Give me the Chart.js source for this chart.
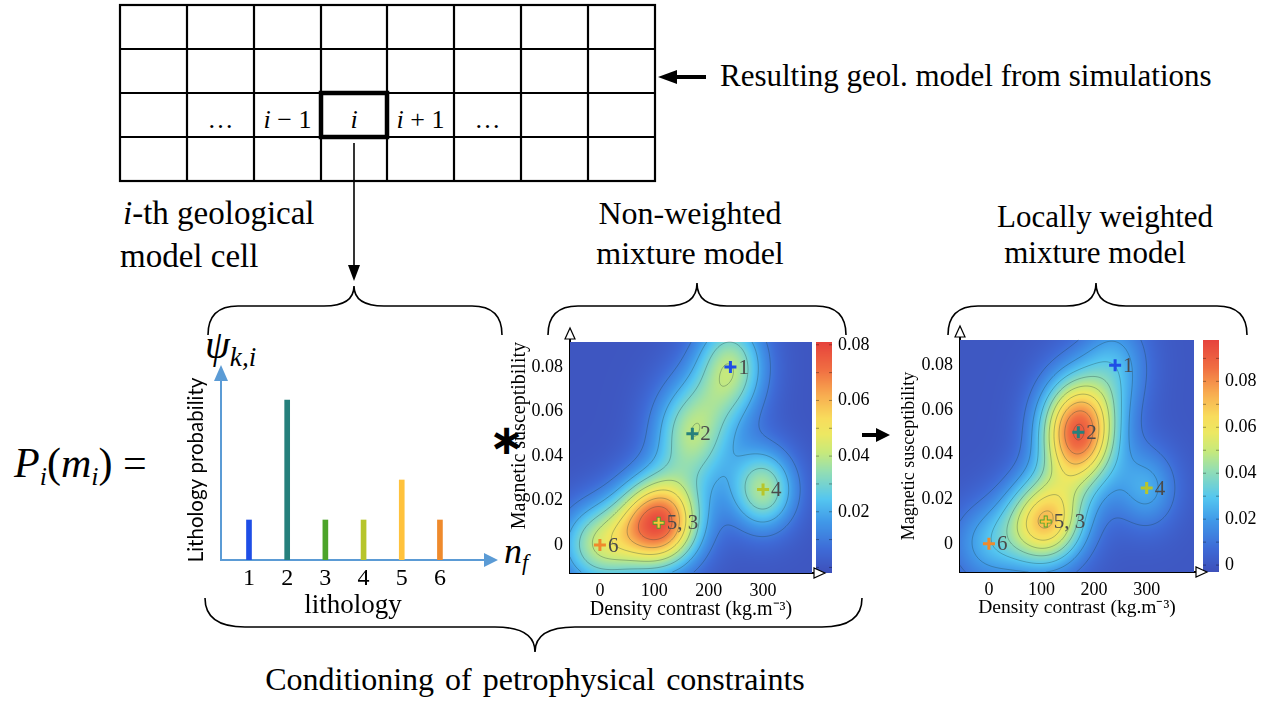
<!DOCTYPE html>
<html>
<head>
<meta charset="utf-8">
<script src="https://cdn.jsdelivr.net/npm/chart.js@4.4.1/dist/chart.umd.min.js"></script>
<style>
  body { margin: 0; background: #fff; }
  #fig { position: relative; width: 1266px; height: 702px; overflow: hidden; font-family: "Liberation Serif", serif; color: #000; }
  .t { position: absolute; white-space: nowrap; line-height: 1; }
  .c { text-align: center; }
  .m { font-family: "Liberation Serif", serif; }
  .m sub { font-size: 0.62em; vertical-align: -0.3em; font-style: italic; }
  canvas { position: absolute; }
  svg { position: absolute; left: 0; top: 0; }
</style>
</head>
<body>
<div id="fig">
  <svg width="1266" height="702">
    <g stroke="#000" fill="none" stroke-width="2.2">
      <rect x="120" y="5" width="535" height="176"/>
      <path d="M187 5V181M254 5V181M321 5V181M387 5V181M454 5V181M521 5V181M588 5V181M120 49H655M120 93H655M120 137H655"/>
    </g>
    <rect x="321" y="93" width="66" height="44" fill="none" stroke="#000" stroke-width="4.5"/>
    <path d="M354 143V268" stroke="#000" stroke-width="1.6"/>
    <polygon points="348,265 360,265 354,281" fill="#000"/>
    <path d="M676 77H706" stroke="#000" stroke-width="4"/>
    <polygon points="658,77 677,70 677,84" fill="#000"/>
    <path d="M862 435H878" stroke="#000" stroke-width="4"/>
    <polygon points="890,435 876,428 876,442" fill="#000"/>
    <g stroke="#000" fill="none" stroke-width="1.6">
      <path d="M208 335Q208 306 238 306L324 306Q354 306 354 286Q354 306 384 306L472 306Q502 306 502 335"/>
      <path d="M548 335Q548 306 578 306L667 306Q697 306 697 283Q697 306 727 306L816 306Q846 306 846 335"/>
      <path d="M948 335Q948 306 978 306L1066 306Q1096 306 1096 283Q1096 306 1126 306L1217 306Q1247 306 1247 335"/>
      <path d="M205 598Q205 627 245 627L495 627Q535 627 535 652Q535 627 575 627L822 627Q862 627 862 598"/>
    </g>
  </svg>

  <div class="t m c" style="left:187px;top:107px;width:67px;font-size:26px">…</div>
  <div class="t m c" style="left:254px;top:107px;width:67px;font-size:26px"><i>i</i> − 1</div>
  <div class="t m c" style="left:321px;top:107px;width:66px;font-size:26px"><i>i</i></div>
  <div class="t m c" style="left:387px;top:107px;width:67px;font-size:26px"><i>i</i> + 1</div>
  <div class="t m c" style="left:454px;top:107px;width:67px;font-size:26px">…</div>

  <div class="t" style="left:720px;top:60px;font-size:31px">Resulting geol. model from simulations</div>
  <div class="t" style="left:123px;top:197px;font-size:33px"><i>i</i>-th geological</div>
  <div class="t" style="left:120px;top:240px;font-size:33px">model cell</div>
  <div class="t c" style="left:490px;top:197px;width:400px;font-size:32px">Non-weighted</div>
  <div class="t c" style="left:490px;top:237px;width:400px;font-size:32px">mixture model</div>
  <div class="t c" style="left:905px;top:201px;width:400px;font-size:31px">Locally weighted</div>
  <div class="t c" style="left:895px;top:237px;width:400px;font-size:31px">mixture model</div>
  <div class="t c" style="left:185px;top:663px;width:700px;font-size:32px;word-spacing:3px">Conditioning of petrophysical constraints</div>

  <div class="t m" style="left:14px;top:442px;font-size:42px"><i>P</i><sub>i</sub>(<i>m</i><sub>i</sub>) =</div>
  <div class="t m" style="left:205px;top:325px;font-size:40px"><i>ψ</i><sub style="font-size:0.68em">k,i</sub></div>
  <div class="t m" style="left:504px;top:533px;font-size:36px"><i>n</i><sub>f</sub></div>
  <div class="t" style="left:489px;top:419px;font-size:42px;font-weight:bold;font-family:'DejaVu Sans'">∗</div>

  <canvas id="bars" width="340" height="285" style="left:170px;top:340px"></canvas>
  <canvas id="mix1" width="375" height="305" style="left:500px;top:320px"></canvas>
  <canvas id="mix2" width="376" height="307" style="left:890px;top:318px"></canvas>
</div>

<script>
// lithology probabilities psi_k,i (bar chart, also the weights of the local mixture)
const lithologies = [1, 2, 3, 4, 5, 6];
const lithologyProb = [0.1, 0.4, 0.1, 0.1, 0.2, 0.1];
const lithologyColors = ['#1f4ee6', '#26807c', '#4ca42a', '#b7c52b', '#ffc23c', '#ef8a2c'];

// mixture components, one per lithology (centres are the + markers)
const compDensity = [240, 170, 108, 300, 108, 0];
const compSusc = [0.08, 0.05, 0.01, 0.025, 0.01, 0];
const compSpreadDensity = [45, 50, 52, 42, 52, 52];
const compSpreadSusc = [0.016, 0.017, 0.014, 0.013, 0.014, 0.013];
const compLabels = ['1', '2', '', '4', '5, 3', '6'];
const equalWeights = [0.1667, 0.1667, 0.1667, 0.1667, 0.1667, 0.1667];
const peakScale = 0.225;

// axis ticks
const densityTicks = [0, 100, 200, 300];
const suscTicks = [0, 0.02, 0.04, 0.06, 0.08];
const colorbarTicks1 = [0.02, 0.04, 0.06, 0.08];
const colorbarTicks2 = [0, 0.02, 0.04, 0.06, 0.08];
const contourLevels = [0.01, 0.02, 0.03, 0.04, 0.05, 0.06, 0.07, 0.08, 0.09];

// jet-like colour map, a bit washed out
const cmap = [
  [0.00, [62, 80, 186]], [0.10, [62, 106, 214]], [0.22, [64, 152, 232]],
  [0.32, [84, 198, 240]], [0.44, [148, 222, 178]], [0.52, [198, 233, 124]],
  [0.60, [236, 232, 98]], [0.67, [248, 220, 92]], [0.77, [248, 172, 80]],
  [0.88, [240, 110, 66]], [1.00, [230, 66, 60]]
];

const SERIF = 'Liberation Serif';

function colorAt(t) {
  t = Math.max(0, Math.min(1, t));
  for (let i = 1; i < cmap.length; i++) {
    if (t <= cmap[i][0]) {
      const [t0, c0] = cmap[i - 1], [t1, c1] = cmap[i];
      const f = (t - t0) / (t1 - t0);
      return [0, 1, 2].map(k => Math.round(c0[k] + (c1[k] - c0[k]) * f));
    }
  }
  return cmap[cmap.length - 1][1];
}

function mixtureAt(d, s, weights) {
  let v = 0;
  for (let k = 0; k < weights.length; k++) {
    const a = (d - compDensity[k]) / compSpreadDensity[k];
    const b = (s - compSusc[k]) / compSpreadSusc[k];
    v += weights[k] * peakScale * Math.exp(-0.5 * (a * a + b * b));
  }
  return v;
}

function openArrow(ctx, tipX, tipY, dir) {
  ctx.save();
  ctx.fillStyle = '#fff';
  ctx.strokeStyle = '#000';
  ctx.lineWidth = 1.2;
  ctx.beginPath();
  if (dir === 'up') {
    ctx.moveTo(tipX, tipY); ctx.lineTo(tipX - 5, tipY + 11); ctx.lineTo(tipX + 5, tipY + 11);
  } else {
    ctx.moveTo(tipX, tipY); ctx.lineTo(tipX - 11, tipY - 5); ctx.lineTo(tipX - 11, tipY + 5);
  }
  ctx.closePath();
  ctx.fill();
  ctx.stroke();
  ctx.restore();
}

// draws the density field, contours and colour bar under the markers
function mixturePlugin(weights, gap) {
  return {
    id: 'mixture',
    beforeDatasetsDraw(chart) {
      const { ctx, chartArea: a, scales } = chart;
      const xs = scales.x, ys = scales.y, cb = scales.cb;
      const lo = cb.min, hi = cb.max;
      const w = Math.round(a.right - a.left), h = Math.round(a.bottom - a.top);

      const off = document.createElement('canvas');
      off.width = w; off.height = h;
      const octx = off.getContext('2d');
      const img = octx.createImageData(w, h);
      for (let j = 0; j < h; j++) {
        const s = ys.getValueForPixel(a.top + j + 0.5);
        for (let i = 0; i < w; i++) {
          const d = xs.getValueForPixel(a.left + i + 0.5);
          const c = colorAt((mixtureAt(d, s, weights) - lo) / (hi - lo));
          const p = (j * w + i) * 4;
          img.data[p] = c[0]; img.data[p + 1] = c[1]; img.data[p + 2] = c[2]; img.data[p + 3] = 255;
        }
      }
      octx.putImageData(img, 0, 0);
      ctx.drawImage(off, a.left, a.top);

      // contour lines (marching squares)
      const step = 2;
      const nx = Math.floor(w / step) + 1, ny = Math.floor(h / step) + 1;
      const g = new Float64Array(nx * ny);
      for (let j = 0; j < ny; j++) {
        const s = ys.getValueForPixel(a.top + j * step);
        for (let i = 0; i < nx; i++) g[j * nx + i] = mixtureAt(xs.getValueForPixel(a.left + i * step), s, weights);
      }
      ctx.save();
      ctx.beginPath();
      for (const L of contourLevels) {
        for (let j = 0; j < ny - 1; j++) {
          for (let i = 0; i < nx - 1; i++) {
            const v0 = g[j * nx + i], v1 = g[j * nx + i + 1], v2 = g[(j + 1) * nx + i + 1], v3 = g[(j + 1) * nx + i];
            const x0 = a.left + i * step, y0 = a.top + j * step;
            const pts = [];
            if ((v0 < L) !== (v1 < L)) pts.push([x0 + step * (L - v0) / (v1 - v0), y0]);
            if ((v1 < L) !== (v2 < L)) pts.push([x0 + step, y0 + step * (L - v1) / (v2 - v1)]);
            if ((v3 < L) !== (v2 < L)) pts.push([x0 + step * (L - v3) / (v2 - v3), y0 + step]);
            if ((v0 < L) !== (v3 < L)) pts.push([x0, y0 + step * (L - v0) / (v3 - v0)]);
            if (pts.length >= 2) { ctx.moveTo(pts[0][0], pts[0][1]); ctx.lineTo(pts[1][0], pts[1][1]); }
            if (pts.length === 4) { ctx.moveTo(pts[2][0], pts[2][1]); ctx.lineTo(pts[3][0], pts[3][1]); }
          }
        }
      }
      ctx.strokeStyle = 'rgba(30,60,60,0.35)';
      ctx.lineWidth = 0.9;
      ctx.stroke();

      // colour bar
      const bx = cb.left + gap, bw = 16;
      for (let py = Math.floor(cb.top); py < cb.bottom; py++) {
        const c = colorAt((cb.getValueForPixel(py + 0.5) - lo) / (hi - lo));
        ctx.fillStyle = `rgb(${c[0]},${c[1]},${c[2]})`;
        ctx.fillRect(bx, py, bw, 1);
      }
      ctx.strokeStyle = 'rgba(0,0,0,0.35)';
      ctx.lineWidth = 1;
      ctx.beginPath();
      for (let v = 0; v <= hi; v += 0.01) {
        const py = cb.getPixelForValue(v);
        if (py < cb.top || py > cb.bottom) continue;
        ctx.moveTo(bx + bw - 3, py); ctx.lineTo(bx + bw, py);
        ctx.moveTo(bx, py); ctx.lineTo(bx + 3, py);
      }
      ctx.stroke();
      ctx.restore();
    },
    afterDatasetsDraw(chart) {
      const { ctx } = chart;
      const meta = chart.getDatasetMeta(0);
      ctx.save();
      ctx.font = `21px "${SERIF}"`;
      ctx.fillStyle = '#4a4a4a';
      ctx.textBaseline = 'middle';
      meta.data.forEach((pt, i) => {
        if (compLabels[i]) ctx.fillText(compLabels[i], pt.x + 8, pt.y + 1);
      });
      ctx.restore();
    },
    afterDraw(chart) {
      const { ctx, chartArea: a } = chart;
      ctx.save();
      ctx.strokeStyle = '#000';
      ctx.lineWidth = 2;
      ctx.beginPath();
      ctx.moveTo(a.left, a.top); ctx.lineTo(a.left, a.top - 6);
      ctx.moveTo(a.right, a.bottom); ctx.lineTo(a.right + 3, a.bottom);
      ctx.stroke();
      ctx.restore();
      openArrow(ctx, a.left, a.top - 14, 'up');
      openArrow(ctx, a.right + 13, a.bottom, 'right');
    }
  };
}

function mixtureChart(id, weights, opts) {
  const fmt = v => (Math.abs(v) < 1e-9 ? '0' : v.toFixed(2));
  return new Chart(document.getElementById(id), {
    type: 'scatter',
    data: {
      datasets: [{
        data: compDensity.map((d, i) => ({ x: d, y: compSusc[i] })),
        pointStyle: 'cross',
        pointRadius: [6, 6, 6, 6, 5, 6],
        pointBorderWidth: [3, 3, 4, 3, 2.2, 3],
        pointBorderColor: lithologyColors,
        pointBackgroundColor: lithologyColors
      }]
    },
    options: {
      responsive: false,
      animation: false,
      devicePixelRatio: 1,
      events: [],
      layout: { padding: { top: 22, left: 0, right: 0, bottom: 0 } },
      plugins: { legend: { display: false }, tooltip: { enabled: false } },
      scales: {
        x: {
          type: 'linear', position: 'bottom', min: -55, max: 390,
          afterBuildTicks: s => { s.ticks = densityTicks.map(v => ({ value: v })); },
          ticks: { font: { family: SERIF, size: 18 }, color: '#000', padding: opts.xTickPad, callback: v => String(v) },
          grid: { display: false, drawTicks: false },
          border: { color: '#000', width: 2 },
          title: { display: true, text: 'Density contrast (kg.m⁻³)', font: { family: SERIF, size: opts.xTitleSize }, color: '#000', padding: { top: 0, bottom: opts.xTitlePad } },
          afterFit: s => { s.height = opts.xH; }
        },
        y: {
          type: 'linear', position: 'left', min: -0.0126, max: 0.0913,
          afterBuildTicks: s => { s.ticks = suscTicks.map(v => ({ value: v })); },
          ticks: { font: { family: SERIF, size: 18 }, color: '#000', padding: 7, callback: fmt },
          grid: { display: false, drawTicks: false },
          border: { color: '#000', width: 2 },
          title: { display: true, text: 'Magnetic susceptibility', align: opts.yTitleAlign, font: { family: SERIF, size: opts.yTitleSize }, color: '#000', padding: { top: opts.yTitlePad, bottom: 0 } },
          afterFit: s => { s.width = 70; }
        },
        cb: {
          type: 'linear', position: 'right', min: opts.cbMin, max: opts.cbMax,
          afterBuildTicks: s => { s.ticks = opts.cbTicks.map(v => ({ value: v })); },
          ticks: { font: { family: SERIF, size: 18 }, color: '#000', padding: 0, callback: fmt },
          grid: { display: false, drawTicks: true, tickLength: opts.cbGap + 16 + 6 },
          border: { display: false },
          afterFit: s => { s.width = opts.cbW; }
        }
      }
    },
    plugins: [mixturePlugin(weights, opts.cbGap)]
  });
}

// arrows at the ends of the light-blue axes of the bar chart
const blueArrows = {
  id: 'blueArrows',
  afterDraw(chart) {
    const { ctx, chartArea: a } = chart;
    ctx.save();
    ctx.fillStyle = '#5b9bd5';
    ctx.beginPath();
    ctx.moveTo(a.left, a.top - 15); ctx.lineTo(a.left - 7, a.top + 1); ctx.lineTo(a.left + 7, a.top + 1);
    ctx.closePath();
    ctx.moveTo(a.right + 13, a.bottom); ctx.lineTo(a.right - 1, a.bottom - 7); ctx.lineTo(a.right - 1, a.bottom + 7);
    ctx.closePath();
    ctx.fill();
    ctx.restore();
  }
};

new Chart(document.getElementById('bars'), {
  type: 'bar',
  data: {
    datasets: [{
      data: lithologies.map((k, i) => ({ x: k, y: lithologyProb[i] })),
      backgroundColor: lithologyColors,
      barThickness: 5
    }]
  },
  options: {
    responsive: false,
    animation: false,
    devicePixelRatio: 1,
    events: [],
    layout: { padding: { top: 40, right: 25, left: 0, bottom: 0 } },
    plugins: { legend: { display: false }, tooltip: { enabled: false } },
    scales: {
      x: {
        type: 'linear', offset: false, min: 0.267, max: 7.18,
        afterBuildTicks: s => { s.ticks = lithologies.map(v => ({ value: v })); },
        ticks: { font: { family: SERIF, size: 24 }, color: '#000', padding: 4, callback: v => String(v) },
        grid: { display: false, drawTicks: false },
        border: { color: '#5b9bd5', width: 2 },
        title: { display: true, text: 'lithology', font: { family: SERIF, size: 27 }, color: '#000', padding: { top: 0, bottom: 3 } },
        afterFit: s => { s.height = 65; }
      },
      y: {
        min: 0, max: 0.45,
        ticks: { display: false },
        grid: { display: false, drawTicks: false },
        border: { color: '#5b9bd5', width: 2 },
        title: { display: true, text: 'Lithology probability', font: { family: 'Lato', size: 20.5 }, color: '#000', padding: { top: 14, bottom: 0 } },
        afterFit: s => { s.width = 51; }
      }
    }
  },
  plugins: [blueArrows]
});

mixtureChart('mix1', equalWeights, {
  cbMin: -0.002, cbMax: 0.081, cbTicks: colorbarTicks1, cbGap: 4, cbW: 63,
  xH: 52, xTickPad: 7, xTitlePad: 3, xTitleSize: 20,
  yTitleSize: 20, yTitlePad: 8, yTitleAlign: 'end'
});
mixtureChart('mix2', lithologyProb, {
  cbMin: -0.003, cbMax: 0.098, cbTicks: colorbarTicks2, cbGap: 9, cbW: 72,
  xH: 53, xTickPad: 7, xTitlePad: 5, xTitleSize: 19.5,
  yTitleSize: 18, yTitlePad: 8, yTitleAlign: 'center'
});
</script>
</body>
</html>
